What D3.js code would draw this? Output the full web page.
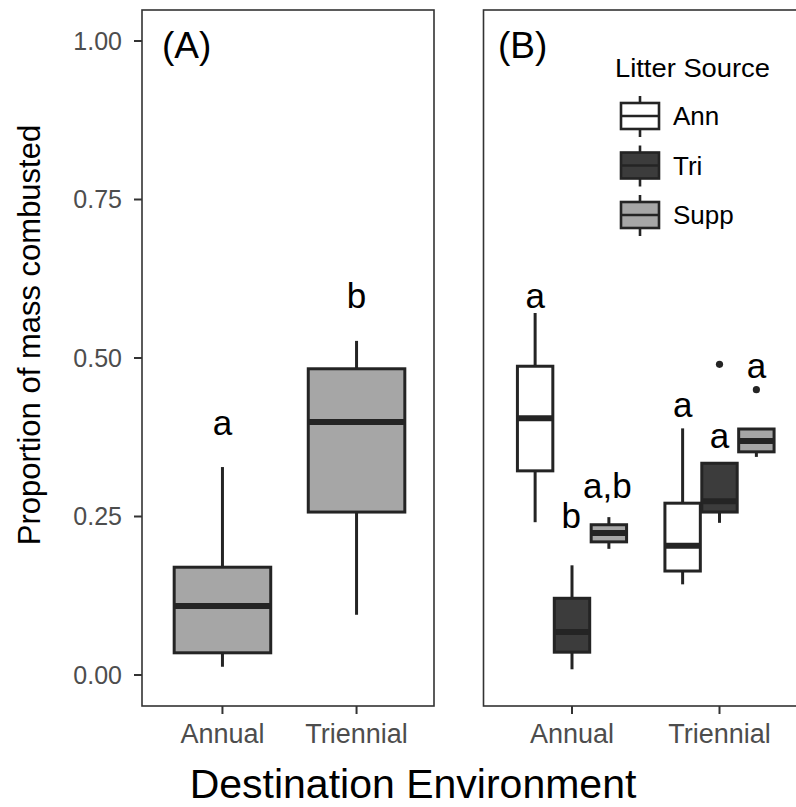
<!DOCTYPE html>
<html>
<head>
<meta charset="utf-8">
<script src="https://cdn.jsdelivr.net/npm/d3@7"></script>
<style>
  html, body { margin: 0; padding: 0; background: #fff; }
  svg { display: block; font-family: "Liberation Sans", Arial, Helvetica, sans-serif; }
</style>
</head>
<body>
<svg id="chart" width="796" height="807"></svg>
<script>
// ---------------- DATA ----------------
const categories = ["Annual", "Triennial"];
const sources = ["Ann", "Tri", "Supp"];
const yTicks = [0, 0.25, 0.5, 0.75, 1.0];

// Panel A: five-number summaries per destination [lowWhisker, q1, median, q3, highWhisker]
const panelAAnnual = [0.013, 0.035, 0.109, 0.170, 0.328];
const panelATriennial = [0.095, 0.257, 0.399, 0.483, 0.527];
const panelALetters = ["a", "b"];
const panelALetterY = [0.379, 0.579];

// Panel B: five-number summaries per litter source and destination
const annAnnual = [0.241, 0.322, 0.405, 0.487, 0.571];
const annTriennial = [0.143, 0.164, 0.204, 0.271, 0.389];
const triAnnual = [0.009, 0.036, 0.068, 0.121, 0.173];
const triTriennial = [0.240, 0.257, 0.274, 0.334, 0.334];
const suppAnnual = [0.199, 0.210, 0.224, 0.237, 0.249];
const suppTriennial = [0.344, 0.352, 0.369, 0.388, 0.388];
const triTriennialOutliers = [0.490];
const suppTriennialOutliers = [0.450];

const panelBLettersAnnual = ["a", "b", "a,b"];
const panelBLettersTriennial = ["a", "a", "a"];
const panelBLetterYAnnual = [0.579, 0.232, 0.279];
const panelBLetterYTriennial = [0.407, 0.358, 0.468];
const panelBLetterShiftAnnual = [0, -0.05, -0.1];
const panelBLetterShiftTriennial = [0, 0, 0];

// ---------------- STYLE ----------------
const fillA = "#a6a6a6";
const sourceFill = { Ann: "#ffffff", Tri: "#3c3c3c", Supp: "#a6a6a6" };
const boxStroke = "#242424";
const frameColor = "#333333";
const tickTextColor = "#4d4d4d";

const svg = d3.select("#chart");

const panelTop = 10, panelBottom = 706;
const y = d3.scaleLinear().domain([0, 1]).range([675, 41]);

// x scales: continuous positions for discrete categories (ggplot-like expansion 0.6)
const xA = d3.scaleLinear().domain([0.4, 2.6]).range([142, 437]);
const xB = d3.scaleLinear().domain([0.4, 2.6]).range([483.5, 808]);
const catIndex = d3.scaleOrdinal().domain(categories).range([1, 2]);
const dodge = d3.scaleBand().domain(sources).range([-0.375, 0.375]);

function drawBox(g, cx, halfW, stats, fill, sw, medW) {
  const [lo, q1, med, q3, hi] = stats;
  g.append("line").attr("x1", cx).attr("x2", cx).attr("y1", y(q3)).attr("y2", y(hi))
    .attr("stroke", boxStroke).attr("stroke-width", sw);
  g.append("line").attr("x1", cx).attr("x2", cx).attr("y1", y(q1)).attr("y2", y(lo))
    .attr("stroke", boxStroke).attr("stroke-width", sw);
  g.append("rect").attr("x", cx - halfW).attr("y", y(q3))
    .attr("width", 2 * halfW).attr("height", y(q1) - y(q3))
    .attr("fill", fill).attr("stroke", boxStroke).attr("stroke-width", sw);
  g.append("line").attr("x1", cx - halfW).attr("x2", cx + halfW).attr("y1", y(med)).attr("y2", y(med))
    .attr("stroke", boxStroke).attr("stroke-width", medW);
}

function drawFrame(x0, x1) {
  svg.append("rect").attr("x", x0).attr("y", panelTop).attr("width", x1 - x0).attr("height", panelBottom - panelTop)
    .attr("fill", "none").attr("stroke", frameColor).attr("stroke-width", 1.6);
}

function drawXAxis(xs) {
  const g = svg.append("g");
  categories.forEach(c => {
    const px = xs(catIndex(c));
    g.append("line").attr("x1", px).attr("x2", px).attr("y1", panelBottom).attr("y2", panelBottom + 8)
      .attr("stroke", frameColor).attr("stroke-width", 2);
    g.append("text").attr("x", px).attr("y", 743).attr("text-anchor", "middle")
      .attr("font-size", 27).attr("fill", tickTextColor).text(c);
  });
}

// ---------------- PANEL A ----------------
const gA = svg.append("g");
const panelAStats = [panelAAnnual, panelATriennial];
categories.forEach((c, i) => {
  const cx = xA(catIndex(c));
  const halfW = (xA(1.36) - xA(1));
  drawBox(gA, cx, halfW, panelAStats[i], fillA, 3, 6);
  gA.append("text").attr("x", cx).attr("y", y(panelALetterY[i]))
    .attr("text-anchor", "middle").attr("font-size", 35).attr("fill", "#000").text(panelALetters[i]);
});
drawFrame(142, 434);
svg.append("text").attr("x", 162).attr("y", 58).attr("font-size", 37).text("(A)");

// y axis (left of panel A)
const yg = svg.append("g");
yTicks.forEach(t => {
  yg.append("line").attr("x1", 134).attr("x2", 142).attr("y1", y(t)).attr("y2", y(t))
    .attr("stroke", frameColor).attr("stroke-width", 2);
  yg.append("text").attr("x", 122).attr("y", y(t)).attr("dy", "0.35em")
    .attr("text-anchor", "end").attr("font-size", 25).attr("fill", tickTextColor)
    .text(d3.format(".2f")(t));
});
drawXAxis(xA);

// ---------------- PANEL B ----------------
const gB = svg.append("g");
const statsB = {
  Ann: [annAnnual, annTriennial],
  Tri: [triAnnual, triTriennial],
  Supp: [suppAnnual, suppTriennial]
};
const outliersB = { Ann: [[], []], Tri: [[], triTriennialOutliers], Supp: [[], suppTriennialOutliers] };
const bw = dodge.bandwidth();
categories.forEach((c, i) => {
  sources.forEach(s => {
    const centerVal = catIndex(c) + dodge(s) + bw / 2;
    const cx = xB(centerVal);
    const halfW = (xB(centerVal + bw / 2) - xB(centerVal)) * 0.96;
    drawBox(gB, cx, halfW, statsB[s][i], sourceFill[s], 3, 6);
    outliersB[s][i].forEach(v => {
      gB.append("circle").attr("cx", cx).attr("cy", y(v)).attr("r", 3.6).attr("fill", boxStroke);
    });
  });
});
const lettersB = [panelBLettersAnnual, panelBLettersTriennial];
const lettersBY = [panelBLetterYAnnual, panelBLetterYTriennial];
const lettersBShift = [panelBLetterShiftAnnual, panelBLetterShiftTriennial];
categories.forEach((c, i) => {
  sources.forEach((s, j) => {
    const centerVal = catIndex(c) + dodge(s) + bw / 2;
    gB.append("text").attr("x", xB(centerVal + lettersBShift[i][j] * 0.1))
      .attr("y", y(lettersBY[i][j])).attr("text-anchor", "middle")
      .attr("font-size", 35).attr("fill", "#000").text(lettersB[i][j]);
  });
});
drawFrame(483.5, 830);
svg.append("text").attr("x", 498).attr("y", 58).attr("font-size", 37).text("(B)");
drawXAxis(xB);

// ---------------- LEGEND ----------------
const lg = svg.append("g");
lg.append("text").attr("x", 615).attr("y", 77).attr("font-size", 26).attr("fill", "#000")
  .attr("textLength", 155).attr("lengthAdjust", "spacingAndGlyphs").text("Litter Source");
sources.forEach((s, k) => {
  const cy = 116 + k * 49.5;
  const x0 = 621, x1 = 659, cxk = 640;
  lg.append("line").attr("x1", cxk).attr("x2", cxk).attr("y1", cy - 20).attr("y2", cy + 21)
    .attr("stroke", boxStroke).attr("stroke-width", 2.6);
  lg.append("rect").attr("x", x0).attr("y", cy - 13).attr("width", x1 - x0).attr("height", 26)
    .attr("fill", sourceFill[s]).attr("stroke", boxStroke).attr("stroke-width", 2.6);
  lg.append("line").attr("x1", x0).attr("x2", x1).attr("y1", cy).attr("y2", cy)
    .attr("stroke", boxStroke).attr("stroke-width", 2.6);
  lg.append("text").attr("x", 673).attr("y", cy).attr("dy", "0.36em").attr("font-size", 26)
    .attr("fill", "#000").text(s);
});

// ---------------- AXIS TITLES ----------------
svg.append("text").attr("x", 413).attr("y", 798).attr("text-anchor", "middle")
  .attr("font-size", 41).attr("fill", "#000").text("Destination Environment");
svg.append("text").attr("transform", "translate(40,335) rotate(-90)")
  .attr("text-anchor", "middle").attr("font-size", 31).attr("fill", "#000")
  .text("Proportion of mass combusted");
</script>
</body>
</html>
